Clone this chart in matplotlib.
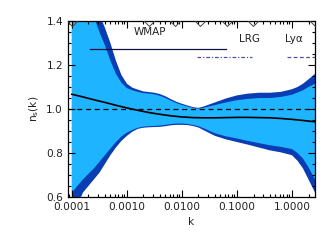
import numpy as np
import matplotlib
matplotlib.use('Agg')
import matplotlib.pyplot as plt
from matplotlib.ticker import FixedLocator, LogLocator, MultipleLocator, NullFormatter

plt.rcParams['font.family'] = ['DejaVu Sans']

# log10(k) grid on which the envelopes were read
logk = [-4.0, -3.8, -3.6, -3.5, -3.4, -3.3, -3.2, -3.1, -3.0, -2.9, -2.8, -2.7,
        -2.6, -2.5, -2.4, -2.3, -2.2, -2.1, -2.0, -1.9, -1.8, -1.7, -1.6, -1.4,
        -1.2, -1.0, -0.8, -0.6, -0.4, -0.2, 0.0, 0.1, 0.2, 0.3, 0.42]

upper_outer = [2.2, 1.8, 1.52, 1.43, 1.37, 1.30, 1.22, 1.155, 1.115, 1.097, 1.088, 1.08,
               1.077, 1.074, 1.068, 1.058, 1.045, 1.033, 1.024, 1.016, 1.009, 1.005, 1.012, 1.03,
               1.048, 1.062, 1.07, 1.074, 1.074, 1.078, 1.09, 1.10, 1.115, 1.135, 1.16]
upper_inner = [2.0, 1.65, 1.42, 1.35, 1.29, 1.22, 1.16, 1.12, 1.095, 1.085, 1.078, 1.072,
               1.07, 1.067, 1.06, 1.05, 1.038, 1.027, 1.018, 1.011, 1.005, 1.001, 1.006, 1.018,
               1.03, 1.04, 1.046, 1.05, 1.05, 1.055, 1.065, 1.075, 1.085, 1.10, 1.115]
lower_inner = [0.62, 0.68, 0.73, 0.76, 0.79, 0.82, 0.85, 0.875, 0.893, 0.905, 0.915, 0.92,
               0.922, 0.923, 0.925, 0.928, 0.932, 0.934, 0.934, 0.932, 0.928, 0.922, 0.912, 0.89,
               0.876, 0.866, 0.855, 0.845, 0.835, 0.828, 0.818, 0.80, 0.775, 0.735, 0.68]
lower_outer = [0.5, 0.62, 0.68, 0.71, 0.75, 0.79, 0.825, 0.855, 0.878, 0.897, 0.91, 0.915,
               0.917, 0.918, 0.919, 0.922, 0.926, 0.928, 0.928, 0.927, 0.923, 0.916, 0.903, 0.878,
               0.862, 0.85, 0.838, 0.825, 0.812, 0.803, 0.79, 0.765, 0.73, 0.68, 0.62]

# best fit n_s(k)
fit_logk = [-4.0, -3.8, -3.6, -3.4, -3.2, -3.0, -2.8, -2.6, -2.4, -2.2, -2.0, -1.8,
            -1.6, -1.4, -1.2, -1.0, -0.8, -0.6, -0.4, -0.2, 0.0, 0.2, 0.42]
fit_ns = [1.067, 1.055, 1.042, 1.03, 1.017, 1.005, 0.994, 0.984, 0.976, 0.969, 0.964, 0.961,
          0.960, 0.960, 0.961, 0.962, 0.962, 0.961, 0.960, 0.957, 0.953, 0.948, 0.942]

# knot positions (diamonds on top axis)
knots_k = [1e-4, 2.5e-3, 7.4e-3, 0.0214, 0.066, 0.195, 2.6]

# data ranges of the experiments
wmap_range = [2.1e-4, 0.063]
lrg_range = [0.0186, 0.186]
lya_range = [0.81, 2.6]

light = '#1eb4ff'
dark = '#0a3cb4'

k = 10.0 ** np.array(logk)
fig = plt.figure(figsize=(3.36, 2.4), dpi=100)
ax = fig.add_axes([0.202, 0.179, 0.7355, 0.7335])

ax.fill_between(k, lower_outer, upper_outer, color=dark, lw=0)
ax.fill_between(k, lower_inner, upper_inner, color=light, lw=0)

ax.axhline(1.0, color='black', ls=(0, (4, 3)), lw=0.9)
ax.plot(10.0 ** np.array(fit_logk), fit_ns, color='black', lw=1.2)

# open diamonds sitting on the top axis (lower half visible)
ax.plot(knots_k, [1.4] * len(knots_k), ls='none', marker='D', ms=5.5,
        mfc='none', mec='#444444', mew=0.7, clip_on=True, zorder=5)

ax.plot(wmap_range, [1.273, 1.273], color='#101040', lw=0.9)
ax.plot(lrg_range, [1.236, 1.236], color='#5050a0', lw=0.9, ls=(0, (3, 1.5, 1, 1.5)))
ax.plot(lya_range, [1.236, 1.236], color='#5050a0', lw=0.9, ls=(0, (3, 2)))
ax.text(0.0026, 1.352, 'WMAP', fontsize=7.5, ha='center', va='center', color='#222222')
ax.text(0.17, 1.32, 'LRG', fontsize=7.5, ha='center', va='center', color='#222222')
ax.text(1.1, 1.32, 'Ly\u03b1', fontsize=7.5, ha='center', va='center', color='#222222')

ax.set_xscale('log')
ax.set_xlim(8.46e-5, 2.62)
ax.set_ylim(0.6, 1.4)
ax.xaxis.set_major_locator(FixedLocator([1e-4, 1e-3, 1e-2, 1e-1, 1.0]))
ax.set_xticklabels(['0.0001', '0.0010', '0.0100', '0.1000', '1.0000'])
ax.xaxis.set_minor_locator(LogLocator(base=10, subs=np.arange(2, 10)))
ax.xaxis.set_minor_formatter(NullFormatter())
ax.set_yticks([0.6, 0.8, 1.0, 1.2, 1.4])
ax.set_yticklabels(['0.6', '0.8', '1.0', '1.2', '1.4'])
ax.yaxis.set_minor_locator(MultipleLocator(0.05))
ax.tick_params(which='both', direction='in', top=True, right=True, labelsize=7.6,
               width=0.8, labelcolor='#222222')
ax.tick_params(which='major', length=5)
ax.tick_params(which='minor', length=2.5)
for s in ax.spines.values():
    s.set_linewidth(0.9)

ax.set_xlabel('k', fontsize=7.6, labelpad=4, color='#222222')
ax.set_ylabel('n$_{\\rm s}$(k)', fontsize=7.6, labelpad=4, color='#222222')

fig.savefig('out.png', dpi=100)
